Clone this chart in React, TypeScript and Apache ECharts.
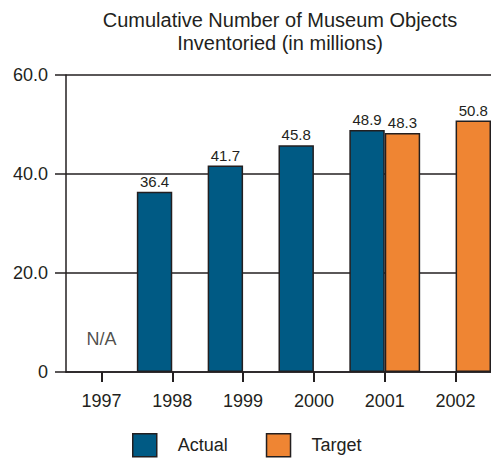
import React, { useEffect, useRef } from "react";
import * as echarts from "echarts";

const years = ["1997", "1998", "1999", "2000", "2001", "2002"];
const actual: (number | null)[] = [null, 36.4, 41.7, 45.8, 48.9, null];
const target: (number | null)[] = [null, null, null, null, 48.3, 50.8];
const notAvailable: [string, number][] = [["1997", 0]];

const INK = "#231f20";
const BLUE = "#005a84";
const ORANGE = "#ef8533";
const FONT = "Liberation Sans, Arial, sans-serif";

export default function App() {
  const ref = useRef<HTMLDivElement>(null);

  useEffect(() => {
    document.body.style.margin = "0";
    const chart = echarts.init(ref.current!, null, { renderer: "svg" });
    const valueLabel = {
      show: true,
      position: "top" as const,
      distance: 3,
      color: INK,
      fontSize: 15,
      fontFamily: FONT,
    };
    chart.setOption({
      animation: false,
      backgroundColor: "#ffffff",
      textStyle: { fontFamily: FONT, color: INK },
      title: {
        text: "Cumulative Number of Museum Objects\nInventoried (in millions)",
        left: 280,
        top: 8,
        textAlign: "center",
        padding: 0,
        textStyle: {
          fontSize: 20,
          fontWeight: "normal",
          color: INK,
          fontFamily: FONT,
          lineHeight: 23,
        },
      },
      legend: {
        data: ["Actual", "Target"],
        left: 132,
        top: 433,
        padding: 0,
        itemWidth: 24,
        itemHeight: 23,
        itemGap: 38,
        icon: "rect",
        itemStyle: { borderColor: INK, borderWidth: 1.5 },
        textStyle: {
          fontSize: 18,
          color: INK,
          fontFamily: FONT,
          padding: [0, 0, 0, 16],
        },
      },
      grid: { left: 66, right: -1, top: 75, bottom: 86 },
      xAxis: {
        type: "category",
        data: years,
        axisLine: { show: true, lineStyle: { color: INK, width: 1.5 } },
        axisTick: {
          show: true,
          alignWithLabel: true,
          length: 10,
          lineStyle: { color: INK, width: 2 },
        },
        axisLabel: { fontSize: 18, color: INK, fontFamily: FONT, margin: 20 },
      },
      yAxis: {
        type: "value",
        min: 0,
        max: 60,
        interval: 20,
        axisLine: { show: true, lineStyle: { color: INK, width: 1.5 } },
        axisTick: { show: true, length: 11, lineStyle: { color: INK, width: 1.5 } },
        splitLine: { show: true, lineStyle: { color: INK, width: 1.5 } },
        axisLabel: {
          fontSize: 18,
          color: INK,
          fontFamily: FONT,
          margin: 18,
          formatter: (v: number) => (v === 0 ? "0" : v.toFixed(1)),
        },
      },
      series: [
        {
          name: "Actual",
          type: "bar",
          data: actual,
          barGap: "0%",
          barCategoryGap: "0%",
          itemStyle: { color: BLUE, borderColor: INK, borderWidth: 1.5 },
          label: { ...valueLabel, formatter: (p: any) => p.value.toFixed(1) },
          z: 3,
        },
        {
          name: "Target",
          type: "bar",
          data: target,
          barGap: "0%",
          barCategoryGap: "0%",
          itemStyle: { color: ORANGE, borderColor: INK, borderWidth: 1.5 },
          label: { ...valueLabel, formatter: (p: any) => p.value.toFixed(1) },
          z: 3,
        },
        {
          name: "N/A",
          type: "scatter",
          data: notAvailable,
          symbolSize: 0,
          silent: true,
          label: {
            show: true,
            position: "top",
            distance: 24,
            formatter: "N/A",
            fontSize: 18,
            color: INK,
            fontFamily: FONT,
          },
        },
      ],
    });
    return () => chart.dispose();
  }, []);

  return (
    <div
      ref={ref}
      style={{ position: "absolute", left: 0, top: 0, width: 491, height: 458 }}
    />
  );
}
